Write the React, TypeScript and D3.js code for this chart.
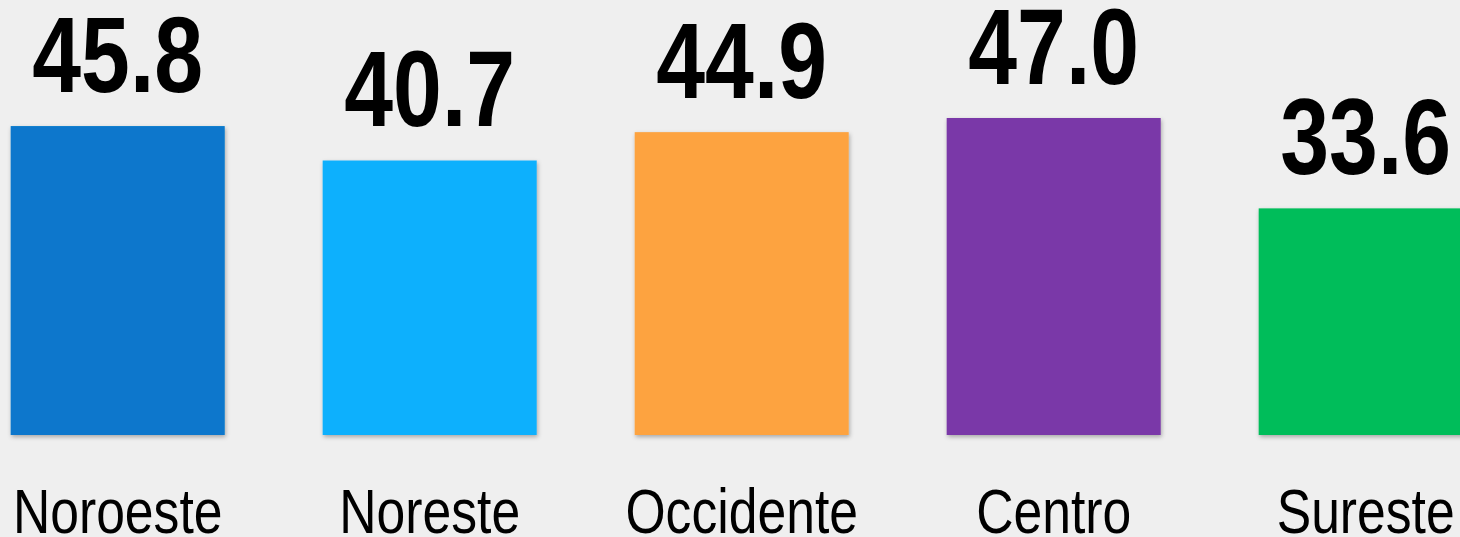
import React from "react";
import * as d3 from "d3";

const categories = ["Noroeste", "Noreste", "Occidente", "Centro", "Sureste"];
const values = [45.8, 40.7, 44.9, 47.0, 33.6];
const colors = ["#0777CC", "#10B0FD", "#FDA33F", "#7A38A8", "#06BD5A"];

const W = 1460;
const H = 537;
const NARROW = 0.82;

export default function App() {
  const x = d3
    .scaleBand<string>()
    .domain(categories)
    .range([-38.3, 1521.7])
    .paddingInner(0.314)
    .paddingOuter(0.157);
  const y = d3.scaleLinear().domain([0, 47]).range([435, 118]);

  return (
    <svg
      width={W}
      height={H}
      style={{ position: "absolute", left: 0, top: 0 }}
    >
      <defs>
        <filter id="shadow" x="-10%" y="-10%" width="120%" height="120%">
          <feDropShadow dx="1" dy="2" stdDeviation="2" floodColor="#000" floodOpacity="0.3" />
        </filter>
      </defs>
      <rect x={0} y={0} width={W} height={H} fill="#EFEFEF" />
      {categories.map((c, i) => {
        const bx = x(c)!;
        const bw = x.bandwidth();
        const top = y(values[i]);
        const cx = bx + bw / 2;
        return (
          <g key={c}>
            <rect
              x={bx}
              y={top}
              width={bw}
              height={y(0) - top}
              fill={colors[i]}
              filter="url(#shadow)"
            />
            <text
              transform={`translate(${cx},${top - 34}) scale(${NARROW},1)`}
              textAnchor="middle"
              fontFamily="'Liberation Sans Narrow', 'Arial Narrow', 'Liberation Sans', Arial, sans-serif"
              fontWeight="bold"
              fontSize={107}
              fill="#000"
            >
              {values[i].toFixed(1)}
            </text>
            <text
              transform={`translate(${cx},533) scale(${NARROW},1)`}
              textAnchor="middle"
              fontFamily="'Liberation Sans Narrow', 'Arial Narrow', 'Liberation Sans', Arial, sans-serif"
              fontSize={63}
              fill="#000"
            >
              {c}
            </text>
          </g>
        );
      })}
    </svg>
  );
}
